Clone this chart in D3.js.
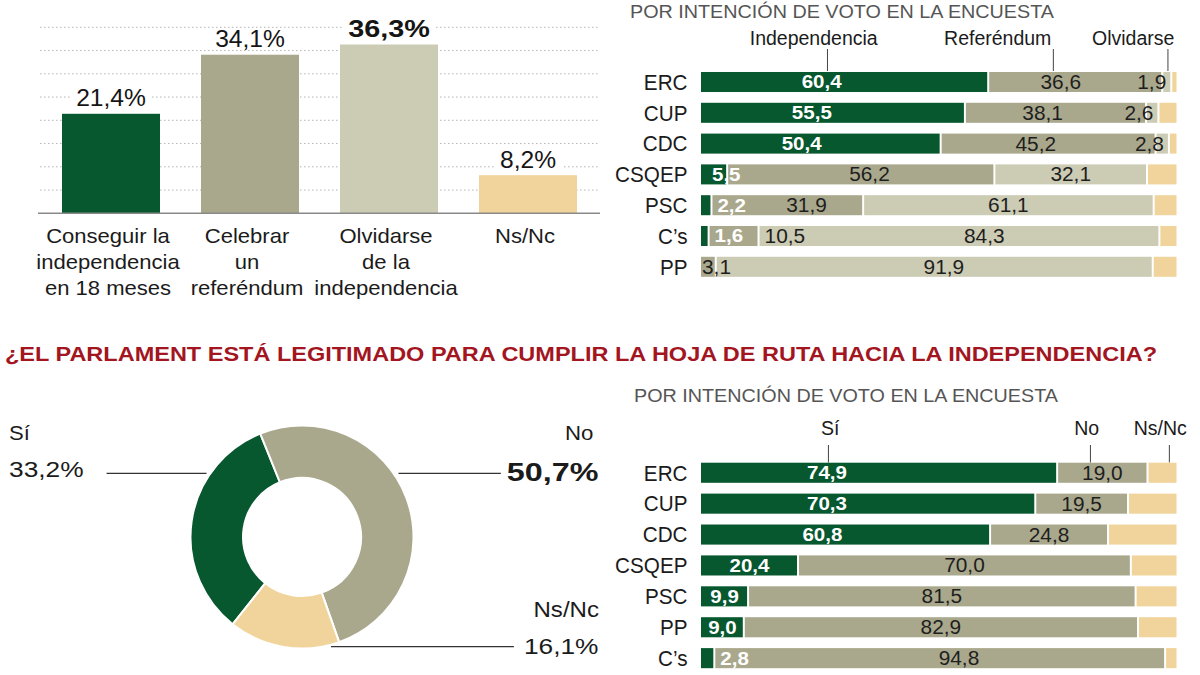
<!DOCTYPE html>
<html><head><meta charset="utf-8">
<script src="https://cdn.jsdelivr.net/npm/d3@7"></script>
<style>
html,body{margin:0;padding:0;background:#fff;}
svg{display:block;font-family:"Liberation Sans",Arial,Helvetica,sans-serif;}
</style></head><body>
<svg id="c" width="1200" height="675"></svg>
<script>
// ---------------- DATA ----------------
const goalCategories = [["Conseguir la","independencia","en 18 meses"],["Celebrar","un","referéndum"],["Olvidarse","de la","independencia"],["Ns/Nc"]];
const goalValues = [21.4, 34.1, 36.3, 8.2];
const goalGridTicks = [5, 10, 15, 20, 25, 30, 35, 40];

const subtitleText = "POR INTENCIÓN DE VOTO EN LA ENCUESTA";
const partiesTop = ["ERC", "CUP", "CDC", "CSQEP", "PSC", "C’s", "PP"];
const topSeries = ["Independencia", "Referéndum", "Olvidarse", "Ns/Nc"];
const topIndependencia = [60.4, 55.5, 50.4, 5.5, 2.2, 1.6, 0];
const topReferendum = [36.6, 38.1, 45.2, 56.2, 31.9, 10.5, 3.1];
const topOlvidarse = [1.9, 2.6, 2.8, 32.1, 61.1, 84.3, 91.9];
const topNsNc = [1.1, 3.8, 1.6, 6.2, 4.8, 3.6, 5.0];

const titleText = "¿EL PARLAMENT ESTÁ LEGITIMADO PARA CUMPLIR LA HOJA DE RUTA HACIA LA INDEPENDENCIA?";

const donutCategories = ["Sí", "No", "Ns/Nc"];
const donutValues = [33.2, 50.7, 16.1];

const partiesBottom = ["ERC", "CUP", "CDC", "CSQEP", "PSC", "PP", "C’s"];
const bottomSeries = ["Sí", "No", "Ns/Nc"];
const bottomSi = [74.9, 70.3, 60.8, 20.4, 9.9, 9.0, 2.8];
const bottomNo = [19.0, 19.5, 24.8, 70.0, 81.5, 82.9, 94.8];
const bottomNsNc = [6.1, 10.2, 14.4, 9.6, 8.6, 8.1, 2.4];

// ---------------- STYLE ----------------
const COL = {green:"#07572f", olive:"#a9a88c", light:"#cccbb4", tan:"#f1d49b", text:"#1b1b1b", gray:"#555", red:"#a3161f"};
const fmt = v => d3.format(".1f")(v).replace(".", ",");
const svg = d3.select("#c");

function T(p, x, y, s, o = {}) {
  const sx = o.sx || 1;
  const t = p.append("text")
    .attr("transform", `translate(${x},${y}) scale(${sx},1)`)
    .attr("text-anchor", o.anchor || "start")
    .style("font-size", (o.size || 20) + "px")
    .style("font-weight", o.bold ? "700" : "400")
    .attr("fill", o.fill || COL.text)
    .text(s);
  t.sx = sx;
  return t;
}
const W = t => t.node().getComputedTextLength() * t.sx;
function moveT(t, x, y, anchor) {
  t.attr("transform", `translate(${x},${y}) scale(${t.sx},1)`).attr("text-anchor", anchor);
}

// ---------------- TOP-LEFT BAR CHART ----------------
(function () {
  const g = svg.append("g");
  const x = d3.scaleBand().domain(d3.range(goalValues.length)).range([41.5, 597.5]).paddingInner(0.295).paddingOuter(0.1475);
  const y = d3.scaleLinear().domain([0, 40]).range([213.3, 27.3]);
  const colors = [COL.green, COL.olive, COL.light, COL.tan];
  g.selectAll("line.grid").data(goalGridTicks).join("line").attr("class", "grid")
    .attr("x1", 40).attr("x2", 600).attr("y1", d => y(d)).attr("y2", d => y(d))
    .attr("stroke", "#b5b5b5").attr("stroke-width", 1).attr("stroke-dasharray", "1.5,2.5");
  const bgLayer = g.append("g");
  g.selectAll("rect.bar").data(goalValues).join("rect").attr("class", "bar")
    .attr("x", (d, i) => x(i)).attr("width", x.bandwidth())
    .attr("y", d => y(d)).attr("height", d => y(0) - y(d))
    .attr("fill", (d, i) => colors[i]);
  const maxV = d3.max(goalValues);
  goalValues.forEach((v, i) => {
    const cx = x(i) + x.bandwidth() / 2;
    const bold = v === maxV;
    const t = T(g, cx, y(v) - 7.5, fmt(v) + "%", {anchor: "middle", size: bold ? 24 : 23, bold, sx: bold ? 1.2 : 1.07, fill: "#151515"});
    const w = W(t);
    bgLayer.append("rect").attr("x", cx - w / 2 - 6).attr("width", w + 12)
      .attr("y", y(v) - 7.5 - 18).attr("height", 20).attr("fill", "#fff");
    goalCategories[i].forEach((line, k) => {
      T(g, cx - 3, 243 + 26 * k, line, {anchor: "middle", size: 21, sx: 1.05});
    });
  });
  g.append("line").attr("x1", 38).attr("x2", 600).attr("y1", y(0)).attr("y2", y(0))
    .attr("stroke", "#8a8a8a").attr("stroke-width", 1.6);
})();

// ---------------- STACKED BAR CHARTS ----------------
function stacked(cfg) {
  const g = svg.append("g");
  const x = d3.scaleLinear().domain([0, 100]).range([701, 1176.5]);
  const y = d3.scaleBand().domain(cfg.rows).range(cfg.yRange).paddingInner(0.35).paddingOuter(0.175);
  T(g, cfg.subX, cfg.subY, subtitleText, {size: 19, sx: 1.04, fill: COL.gray});
  cfg.legend.forEach((name, i) => {
    T(g, x(cfg.legendText[i]), cfg.legendY, name, {anchor: "middle", size: 19.5});
    g.append("line").attr("x1", x(cfg.legendTick[i])).attr("x2", x(cfg.legendTick[i]))
      .attr("y1", cfg.tickY[0]).attr("y2", cfg.tickY[1]).attr("stroke", "#444").attr("stroke-width", 1);
  });
  cfg.rows.forEach((r, ri) => {
    const cy = y(r) + y.bandwidth() / 2;
    T(g, 687.5, cy + 7.8, r, {anchor: "end", size: 22, sx: 0.94});
    let acc = 0;
    const segs = cfg.series.map((arr, si) => {
      const v = arr[ri]; const s = {si, v, a: acc, b: acc + v}; acc += v; return s;
    });
    const last = segs.filter(s => s.v > 0).slice(-1)[0];
    segs.forEach(s => {
      if (s.v <= 0) return;
      const x0 = x(s.a) + (s.a > 0.01 ? 1 : 0);
      const x1 = x(s.b) - (s === last ? 0 : 1);
      g.append("rect").attr("x", x0).attr("width", Math.max(0, x1 - x0))
        .attr("y", y(r)).attr("height", y.bandwidth()).attr("fill", cfg.colors[s.si]);
    });
    const labs = segs.filter(s => s.si < cfg.labeled && s.v > 0).map(s => {
      const green = s.si === 0;
      const t = T(g, 0, 0, fmt(s.v), green ? {size: 18, bold: true, sx: 1.14, fill: "#fff"} : {size: 19.5, sx: 1.07, fill: "#1e1e1e"});
      return {s, t, w: W(t), base: cy + (green ? 6.4 : 7), placed: false};
    });
    const placed = [];
    const place = (L, l, anchor) => {
      const r0 = anchor === "start" ? l : anchor === "end" ? l - L.w : l - L.w / 2;
      moveT(L.t, l, L.base, anchor);
      L.l = r0; L.r = r0 + L.w; L.placed = true; placed.push(L);
    };
    labs.forEach((L, k) => {
      const s = L.s, segW = x(s.b) - x(s.a);
      if (segW >= L.w + 8) return;
      if (s.si === 0) {
        if (s.v >= 4) place(L, x(0) + 11, "start"); else place(L, x(s.b) + 6, "start");
      } else if (!labs.slice(0, k).length) {
        place(L, x(s.a) + 1, "start");
      } else if (x(s.b) + 6 + L.w <= x(100) - 20) {
        place(L, x(s.b) + 6, "start");
      } else {
        place(L, x(s.b) - 5, "end");
      }
    });
    labs.forEach(L => {
      if (L.placed) return;
      const s = L.s, a = x(s.a), b = x(s.b), mid = (a + b) / 2;
      let aL = a, aR = b;
      placed.forEach(p => {
        if (p.r > a && p.l < b) {
          if ((p.l + p.r) / 2 < mid) aL = Math.max(aL, p.r + 4); else aR = Math.min(aR, p.l - 4);
        }
      });
      if (aR - aL >= L.w + 6) {
        let c = (aL + aR) / 2;
        if (s.si === 0 && b - a > 120) c = a + Math.min(0.42 * (b - a), 126);
        c = Math.max(aL + L.w / 2, Math.min(aR - L.w / 2, c));
        place(L, c, "middle");
      } else {
        place(L, b + 6, "start");
      }
    });
  });
}

stacked({
  rows: partiesTop,
  series: [topIndependencia, topReferendum, topOlvidarse, topNsNc],
  colors: [COL.green, COL.olive, COL.light, COL.tan],
  labeled: 3,
  yRange: [66.6, 282.2],
  subX: 630, subY: 18.3,
  legend: topSeries.slice(0, 3), legendTick: [26.6, 74.1, 98.2], legendText: [23.7, 62.4, 90.9],
  legendY: 45, tickY: [49, 71]
});

stacked({
  rows: partiesBottom,
  series: [bottomSi, bottomNo, bottomNsNc],
  colors: [COL.green, COL.olive, COL.tan],
  labeled: 2,
  yRange: [457.3, 673.6],
  subX: 634, subY: 402,
  legend: bottomSeries, legendTick: [26.8, 81.9, 98.5], legendText: [27.2, 81.1, 96.6],
  legendY: 435, tickY: [445, 462.5]
});

// ---------------- TITLE ----------------
svg.append("text").attr("x", 5).attr("y", 361)
  .style("font-family", "'Liberation Sans Narrow','Liberation Sans',Arial,sans-serif")
  .style("font-size", "21px").style("font-weight", "700")
  .attr("fill", COL.red)
  .attr("textLength", 1152).attr("lengthAdjust", "spacingAndGlyphs")
  .text(titleText);

// ---------------- DONUT ----------------
(function () {
  const cx = 302, cy = 537, rO = 111.5, rI = 59;
  const g = svg.append("g");
  const dg = g.append("g").attr("transform", `translate(${cx},${cy})`);
  const start = -141.5 * Math.PI / 180;
  const pie = d3.pie().sort(null).startAngle(start).endAngle(start + 2 * Math.PI);
  const arc = d3.arc().innerRadius(rI).outerRadius(rO);
  const colors = [COL.green, COL.olive, COL.tan];
  dg.selectAll("path").data(pie(donutValues)).join("path")
    .attr("d", arc).attr("fill", (d, i) => colors[i]).attr("stroke", "#fff").attr("stroke-width", 2);
  const edge = yy => Math.sqrt(Math.max(0, rO * rO - (yy - cy) * (yy - cy)));
  T(g, 9, 440, donutCategories[0], {size: 21, sx: 1.05});
  const tSi = T(g, 9, 477, fmt(donutValues[0]) + "%", {size: 22.5, sx: 1.17});
  const ly1 = 473.3;
  g.append("line").attr("x1", 9 + W(tSi) + 23).attr("x2", cx - edge(ly1) - 4).attr("y1", ly1).attr("y2", ly1)
    .attr("stroke", "#333").attr("stroke-width", 1.2);
  T(g, 593.5, 440, donutCategories[1], {size: 21, sx: 1.06, anchor: "end"});
  const tNo = T(g, 598.5, 480.5, fmt(donutValues[1]) + "%", {size: 26.5, sx: 1.22, bold: true, anchor: "end"});
  g.append("line").attr("x1", cx + edge(ly1) + 5).attr("x2", 598.5 - W(tNo) - 6).attr("y1", ly1).attr("y2", ly1)
    .attr("stroke", "#333").attr("stroke-width", 1.2);
  T(g, 599, 616.7, donutCategories[2], {size: 21.5, sx: 1.12, anchor: "end"});
  const tNs = T(g, 598.5, 653.5, fmt(donutValues[2]) + "%", {size: 22.5, sx: 1.17, anchor: "end"});
  const ly2 = 646.7;
  g.append("line").attr("x1", cx + edge(ly2) + 9).attr("x2", 598.5 - W(tNs) - 10).attr("y1", ly2).attr("y2", ly2)
    .attr("stroke", "#333").attr("stroke-width", 1.2);
})();
</script>
</body></html>
